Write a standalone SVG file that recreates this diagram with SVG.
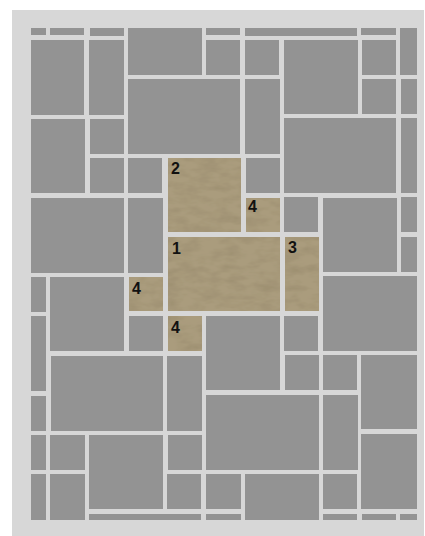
<svg xmlns="http://www.w3.org/2000/svg" width="425" height="536" viewBox="0 0 425 536">
<style>
.t{fill:#939393}
.s{fill:#aa9c7d;filter:url(#stone)}
.l{font-family:"Liberation Sans",Arial,sans-serif;font-weight:bold;font-size:16px;fill:#111}
</style>
<defs>
<filter id="stone" x="0" y="0" width="1" height="1">
<feTurbulence type="fractalNoise" baseFrequency="0.05 0.12" numOctaves="3" seed="4" result="n"/>
<feColorMatrix in="n" type="matrix" values="0 0 0 0 0.4  0 0 0 0 0.35  0 0 0 0 0.25  0 0 0 -0.5 0.32" result="c"/>
<feComposite in="c" in2="SourceGraphic" operator="in" result="m"/>
<feBlend in="SourceGraphic" in2="m" mode="multiply"/>
</filter>
</defs>
<rect x="0" y="0" width="425" height="536" fill="#ffffff"/>
<rect x="12" y="10" width="412" height="526" fill="#d7d7d7"/>
<g id="tiles">
<rect class="t" x="31" y="28" width="15" height="7"/>
<rect class="t" x="50" y="28" width="34" height="7"/>
<rect class="t" x="90" y="28" width="34" height="8"/>
<rect class="t" x="206" y="28" width="34" height="7"/>
<rect class="t" x="245" y="28" width="112" height="8"/>
<rect class="t" x="361" y="28" width="35" height="7"/>
<rect class="t" x="128" y="28" width="74" height="47"/>
<rect class="t" x="400" y="28" width="17" height="47"/>
<rect class="t" x="31" y="40" width="53" height="75"/>
<rect class="t" x="89" y="40" width="35" height="75"/>
<rect class="t" x="206" y="40" width="34" height="35"/>
<rect class="t" x="245" y="40" width="34" height="35"/>
<rect class="t" x="284" y="40" width="74" height="74"/>
<rect class="t" x="362" y="40" width="34" height="35"/>
<rect class="t" x="128" y="79" width="112" height="75"/>
<rect class="t" x="245" y="79" width="35" height="75"/>
<rect class="t" x="362" y="79" width="34" height="35"/>
<rect class="t" x="401" y="79" width="16" height="35"/>
<rect class="t" x="31" y="119" width="54" height="74"/>
<rect class="t" x="90" y="119" width="34" height="35"/>
<rect class="t" x="284" y="118" width="112" height="75"/>
<rect class="t" x="401" y="118" width="16" height="75"/>
<rect class="t" x="90" y="158" width="34" height="35"/>
<rect class="t" x="128" y="158" width="34" height="35"/>
<rect class="t" x="246" y="158" width="34" height="35"/>
<rect class="t" x="31" y="198" width="93" height="75"/>
<rect class="t" x="128" y="198" width="35" height="75"/>
<rect class="t" x="284" y="197" width="34" height="35"/>
<rect class="t" x="323" y="198" width="74" height="74"/>
<rect class="t" x="401" y="197" width="16" height="35"/>
<rect class="t" x="401" y="237" width="16" height="35"/>
<rect class="t" x="31" y="277" width="15" height="35"/>
<rect class="t" x="50" y="277" width="74" height="74"/>
<rect class="t" x="323" y="276" width="94" height="75"/>
<rect class="t" x="31" y="316" width="15" height="75"/>
<rect class="t" x="129" y="316" width="34" height="35"/>
<rect class="t" x="206" y="316" width="74" height="74"/>
<rect class="t" x="284" y="316" width="34" height="35"/>
<rect class="t" x="51" y="356" width="112" height="75"/>
<rect class="t" x="167" y="356" width="35" height="75"/>
<rect class="t" x="285" y="355" width="34" height="35"/>
<rect class="t" x="323" y="355" width="34" height="35"/>
<rect class="t" x="361" y="355" width="56" height="74"/>
<rect class="t" x="31" y="396" width="15" height="35"/>
<rect class="t" x="206" y="395" width="113" height="75"/>
<rect class="t" x="323" y="395" width="35" height="75"/>
<rect class="t" x="31" y="435" width="15" height="35"/>
<rect class="t" x="50" y="435" width="35" height="35"/>
<rect class="t" x="89" y="435" width="74" height="74"/>
<rect class="t" x="168" y="435" width="34" height="35"/>
<rect class="t" x="361" y="434" width="56" height="75"/>
<rect class="t" x="31" y="474" width="15" height="46"/>
<rect class="t" x="50" y="474" width="35" height="46"/>
<rect class="t" x="167" y="474" width="34" height="35"/>
<rect class="t" x="206" y="474" width="35" height="35"/>
<rect class="t" x="245" y="474" width="74" height="46"/>
<rect class="t" x="323" y="474" width="34" height="35"/>
<rect class="t" x="89" y="514" width="112" height="6"/>
<rect class="t" x="206" y="514" width="35" height="6"/>
<rect class="t" x="323" y="514" width="34" height="6"/>
<rect class="t" x="362" y="514" width="34" height="6"/>
<rect class="t" x="400" y="514" width="17" height="6"/>
</g>
<g id="stone2"><rect class="s" x="168" y="158" width="73" height="74"/><text class="l" x="171" y="174">2</text></g>
<g id="stone1"><rect class="s" x="168" y="237" width="112" height="74"/><text class="l" x="172" y="254">1</text></g>
<g id="stone3"><rect class="s" x="285" y="237" width="34" height="74"/><text class="l" x="288" y="253">3</text></g>
<g id="stone4a"><rect class="s" x="246" y="198" width="34" height="34"/><text class="l" x="248" y="212">4</text></g>
<g id="stone4b"><rect class="s" x="129" y="277" width="34" height="34"/><text class="l" x="132" y="294">4</text></g>
<g id="stone4c"><rect class="s" x="168" y="316" width="34" height="35"/><text class="l" x="171" y="333">4</text></g>
</svg>
